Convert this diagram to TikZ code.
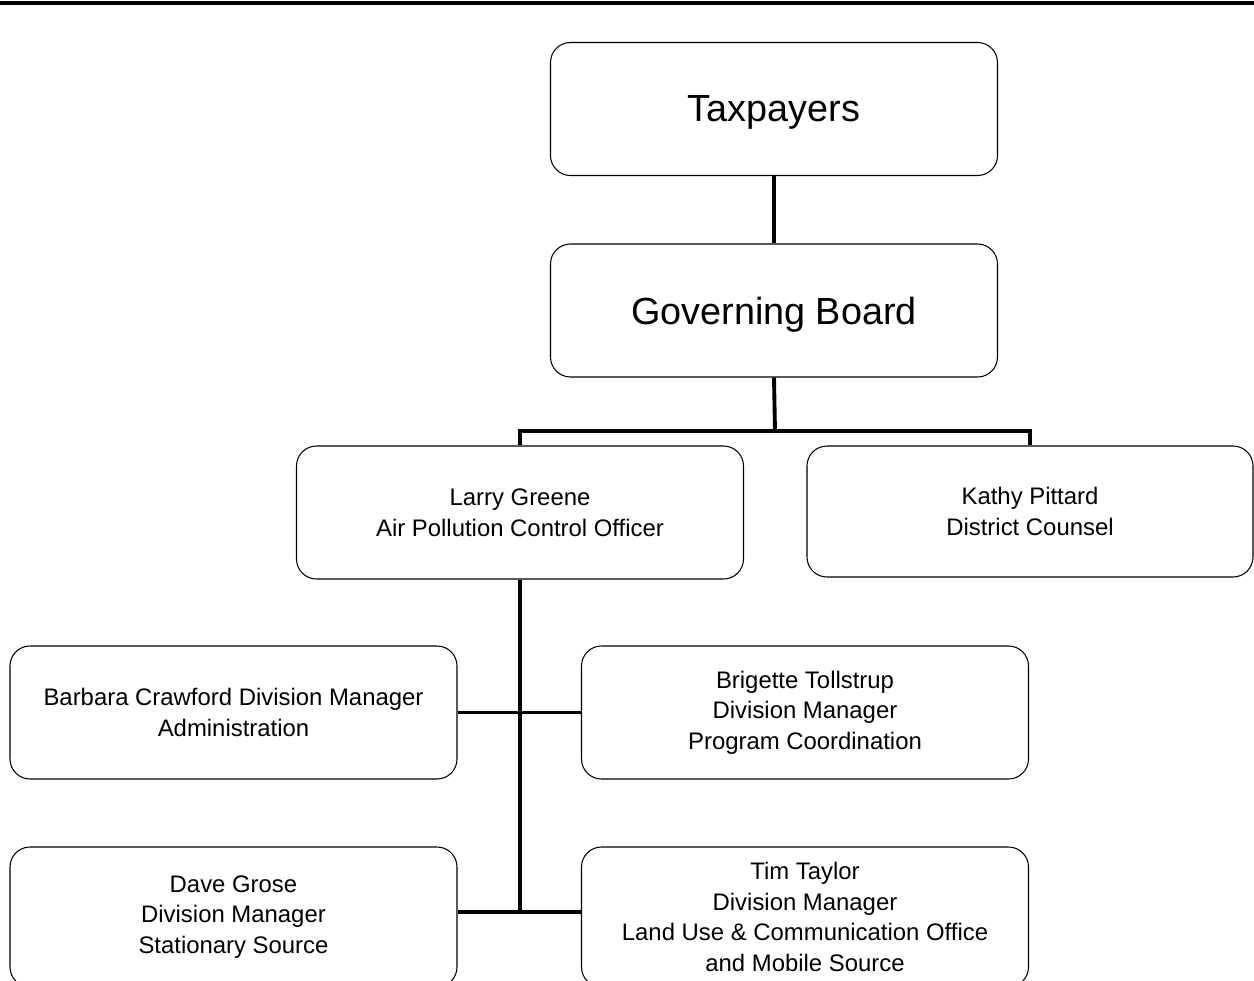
\documentclass[tikz,border=0pt]{standalone}
\usepackage{fontspec}
\setmainfont{Liberation Sans}
\usetikzlibrary{positioning, calc}

\begin{document}
\begin{tikzpicture}[
    x=0.2mm, y=-0.2mm,
    box/.style={rectangle, draw, line width=0.6pt, rounded corners=4mm, minimum width=89.4mm, minimum height=26.6mm, align=center, font=\fontsize{13.6}{17.4}\selectfont, inner sep=0pt},
    bigbox/.style={box, font=\fontsize{21.5}{26}\selectfont, text depth=0pt},
    conn/.style={line width=2.2pt}
]
\clip (0,0) rectangle (1254,981);

% Top rule
\draw[line width=2pt] (0,3) -- (1254,3);

% Top of the chart
\node[bigbox] (tax) at (774,109) {Taxpayers};
\node[bigbox] (gov) at (774,310.5) {Governing Board};

% Officer and counsel
\node[box] (larry) at (520,512.5) {Larry Greene\\Air Pollution Control Officer};
\node[box, minimum width=89.2mm, minimum height=26.2mm] (kathy) at (1030,511.5) {Kathy Pittard\\District Counsel};

% Divisions
\node[box] (barbara) at (233.5,712.5) {Barbara Crawford Division Manager\\Administration};
\node[box] (brig) at (805,712.5) {Brigette Tollstrup\\Division Manager\\Program Coordination};
\node[box, minimum height=28mm] (dave) at (233.5,917) {Dave Grose\\Division Manager\\Stationary Source};
\node[box, minimum height=28mm] (tim) at (805,917) {Tim Taylor\\Division Manager\\Land Use \& Communication Office\\and Mobile Source};

% Connectors
\coordinate (split) at (775,431);
\coordinate (low) at ([yshift=1mm]dave.east);
\draw[conn] (tax) -- (gov);
\draw[conn] (gov.south) -- (split);
\draw[conn] (larry.north) -- (larry.north |- split) -- (kathy.north |- split) -- (kathy.north);
\draw[conn] (larry.south) -- (larry.south |- low);
\draw[conn] (barbara.east) -- (brig.west);
\draw[conn] (low) -- (low -| tim.west);
\end{tikzpicture}
\end{document}
